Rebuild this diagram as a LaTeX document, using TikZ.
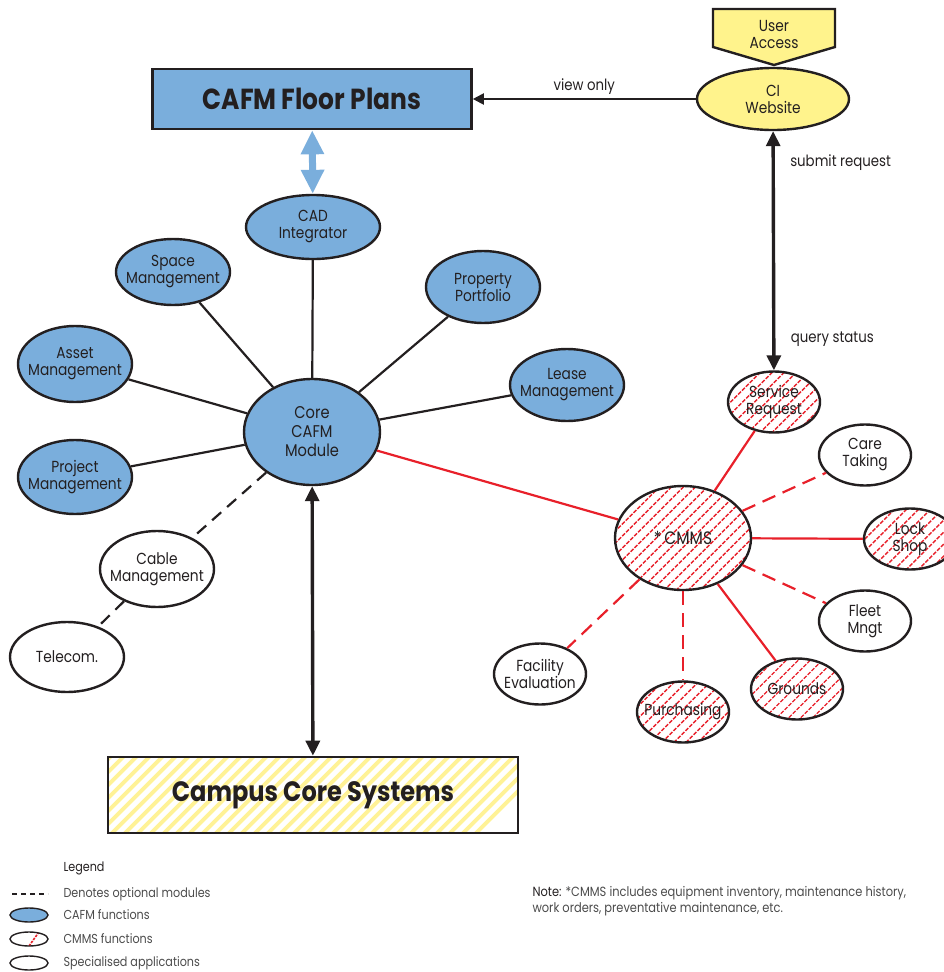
\documentclass[tikz,border=0pt]{standalone}
\usepackage{fontspec}
\setmainfont{Poppins}[FakeStretch=0.86]
\usetikzlibrary{shapes.geometric,arrows.meta}
\definecolor{cafmblue}{RGB}{122,174,220}
\definecolor{accessyellow}{RGB}{255,243,140}
\definecolor{stripeyellow}{RGB}{255,242,150}
\definecolor{cmmsred}{RGB}{232,32,42}
\definecolor{inkblack}{RGB}{35,31,32}
\definecolor{legendgrey}{RGB}{75,75,75}
\tikzset{
  module/.style={ellipse, draw=inkblack, line width=2.4pt, inner ysep=0pt, inner xsep=-12pt, align=center,
    font=\fontsize{16}{17}\selectfont, text=inkblack, minimum width=114pt, minimum height=74pt},
  cafm/.style={module, fill=cafmblue},
  special/.style={module, fill=white},
  small/.style={minimum width=92pt, minimum height=61pt},
  cmmshatch/.style={path picture={
    \foreach \i in {-220,-208,...,220}
      \draw[cmmsred, line width=1.4pt, dash pattern=on 4pt off 1.5pt,
        shift={(path picture bounding box.center)}] (\i pt,0pt) ++(-120pt,-120pt) -- ++(240pt,240pt);}},
  cmms/.style={module, fill=white, cmmshatch},
  bigbox/.style={rectangle, draw=inkblack, line width=2.6pt, inner sep=0pt, text=inkblack},
  stripes/.style={path picture={
    \foreach \i in {-340,-327,...,340}
      \draw[stripeyellow, line width=3.8pt, shift={(path picture bounding box.center)}] (\i pt,0pt) ++(-100pt,-100pt) -- ++(200pt,200pt);}},
  spoke/.style={inkblack, line width=2.2pt},
  optional/.style={inkblack, line width=2.2pt, dash pattern=on 12pt off 8pt},
  redspoke/.style={cmmsred, line width=2.2pt},
  reddash/.style={cmmsred, line width=2.2pt, dash pattern=on 14pt off 8pt},
  twoway/.style={inkblack, line width=3.4pt, {Triangle[length=15pt,width=14pt]}-{Triangle[length=15pt,width=14pt]}},
  label/.style={font=\fontsize{15.5}{17}\selectfont, text=inkblack},
  legendtext/.style={anchor=west, font=\fontsize{13}{15}\selectfont, text=legendgrey},
  legendmark/.style={ellipse, draw=inkblack, line width=1.4pt, inner sep=0pt, minimum width=38pt, minimum height=14pt}
}
\begin{document}
\begin{tikzpicture}[x=1pt,y=-1pt]
\useasboundingbox (0,0) rectangle (943,972);
\node[bigbox, fill=cafmblue, minimum width=319pt, minimum height=60pt, font=\fontsize{29}{32}\bfseries\selectfont] (floor) at (312,99) {CAFM Floor Plans};
\draw[fill=accessyellow, draw=inkblack, line width=2.4pt] (713,9) -- (835,9) -- (835,47) -- (774,65) -- (713,47) -- cycle;
\node[label, align=center, font=\fontsize{16}{17}\selectfont] (access) at (774,34) {User\\Access};
\node[module, fill=accessyellow, minimum width=152pt, minimum height=62pt] (ci) at (773,99) {CI\\Website};
\node[cafm, minimum width=134pt, minimum height=64pt] (cad) at (313,227) {CAD\\Integrator};
\node[cafm, minimum height=66pt] (space) at (173,272) {Space\\Management};
\node[cafm, minimum height=72pt] (property) at (483,287) {Property\\Portfolio};
\node[cafm, minimum height=76pt] (asset) at (75,364) {Asset\\Management};
\node[cafm] (project) at (75,477) {Project\\Management};
\node[cafm, minimum width=136pt, minimum height=106pt, font=\fontsize{17}{19}\selectfont] (core) at (312,432) {Core\\CAFM\\Module};
\node[cafm, minimum height=72pt] (lease) at (567,385) {Lease\\Management};
\node[special, minimum height=76pt] (cable) at (157,569) {Cable\\Management};
\node[special, minimum height=70pt] (telecom) at (67,657) {Telecom.};
\node[bigbox, stripes, minimum width=410pt, minimum height=76pt, font=\fontsize{28}{31}\bfseries\selectfont] (campus) at (313,795) {Campus Core Systems};
\node[cmms, minimum width=136pt, minimum height=104pt, font=\fontsize{18}{20}\selectfont] (cmms) at (683,538) {*\,CMMS};
\node[cmms, small] (service) at (774,402) {Service\\Request};
\node[special, small] (care) at (865,455) {Care\\Taking};
\node[cmms, small] (lock) at (910,539) {Lock\\Shop};
\node[special, small] (fleet) at (865,621) {Fleet\\Mngt};
\node[cmms, small] (grounds) at (797,689) {Grounds};
\node[cmms, small] (purchasing) at (683,712) {Purchasing};
\node[special, small] (facility) at (540,674) {Facility\\Evaluation};
\draw[inkblack, line width=2pt, -{Triangle[length=11pt,width=11pt]}] (ci) -- (floor) node[midway, above, label] {view only};
\draw[twoway] (ci) -- (service)
  node[pos=0.13, anchor=west, xshift=12pt, label] {submit request}
  node[pos=0.87, anchor=west, xshift=12pt, label] {query status};
\draw[cafmblue, line width=7pt, {Triangle[length=24pt,width=22pt]}-{Triangle[length=24pt,width=22pt]}] (floor) -- (cad);
\draw[spoke] (core) -- (cad);
\draw[spoke] (core) -- (space);
\draw[spoke] (core) -- (property);
\draw[spoke] (core) -- (asset);
\draw[spoke] (core) -- (project);
\draw[spoke] (core) -- (lease);
\draw[optional] (core) -- (cable);
\draw[optional] (cable) -- (telecom);
\draw[twoway] (core) -- (campus);
\draw[redspoke] (core) -- (cmms);
\draw[redspoke] (cmms) -- (service);
\draw[reddash] (cmms) -- (care);
\draw[redspoke] (cmms) -- (lock);
\draw[reddash] (cmms) -- (fleet);
\draw[redspoke] (cmms) -- (grounds);
\draw[reddash] (cmms) -- (purchasing);
\draw[reddash] (cmms) -- (facility);
\node[legendtext, text=inkblack] (legend) at (60,868) {Legend};
\coordinate (dashstart) at (12,894);
\coordinate (dashend) at (48,894);
\draw[inkblack, line width=2pt, dash pattern=on 5pt off 4pt] (dashstart) -- (dashend);
\node[legendtext] (optionaltext) at (60,894) {Denotes optional modules};
\node[legendmark, fill=cafmblue] (cafmmark) at (29,915) {};
\node[legendtext] (cafmtext) at (60,915) {CAFM functions};
\node[legendmark, fill=white, path picture={\draw[cmmsred, line width=1.6pt, dash pattern=on 2.5pt off 1.2pt] (path picture bounding box.south) -- ++(10pt,14pt);}] (cmmsmark) at (29,939) {};
\node[legendtext] (cmmstext) at (60,939) {CMMS functions};
\node[legendmark, fill=white] (specialmark) at (29,963) {};
\node[legendtext] (specialtext) at (60,963) {Specialised applications};
\node[legendtext, align=left, font=\fontsize{13.3}{16.5}\selectfont] (note) at (529,901) {{\color{inkblack}Note:} *CMMS includes equipment inventory, maintenance history,\\work orders, preventative maintenance, etc.};
\end{tikzpicture}
\end{document}
